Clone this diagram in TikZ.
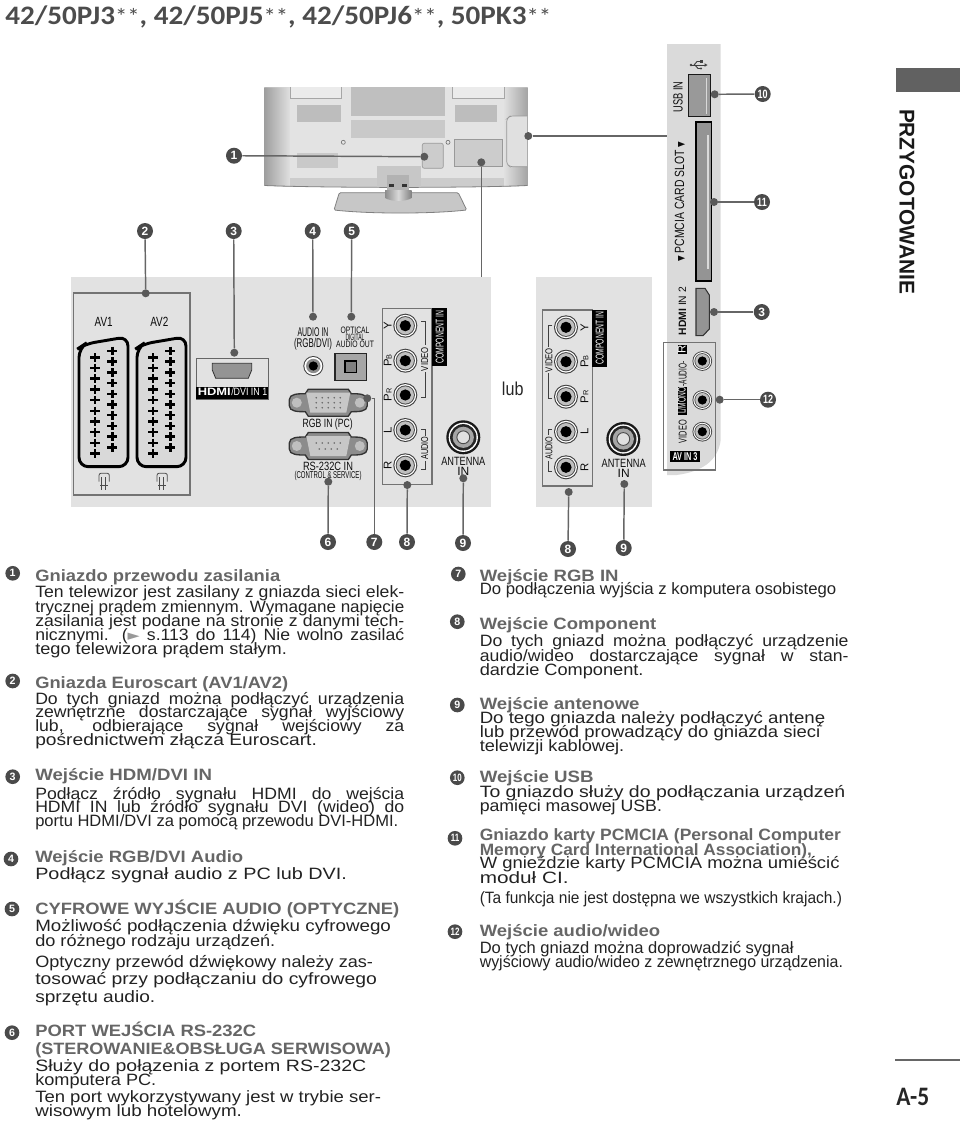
\documentclass[tikz,border=0pt]{standalone}
\usepackage{fontspec}
\usepackage{graphicx}
\setmainfont{Liberation Sans}
\newfontfamily\symfont{DejaVu Sans}
\newfontfamily\hdrfont{Carlito}
\definecolor{panel}{HTML}{E2E2E2}
\definecolor{strip}{HTML}{DADADA}
\definecolor{dark}{HTML}{4A4A4A}
\definecolor{body}{HTML}{222222}
\definecolor{headc}{HTML}{666666}
\newdimen\px \px=0.75pt
\newdimen\innerw
\newsavebox\tlbox
\newcommand{\fitw}[2]{\resizebox{#1\px}{\height}{#2}}
\newcommand{\fits}[2]{\sbox\tlbox{#2}\innerw=#1\px \innerw=0.93\innerw \ifdim\wd\tlbox>\innerw \resizebox{#1\px}{\height}{#2}\else\resizebox{#1\px}{\height}{\makebox[\innerw][s]{#2}}\fi}
\newcommand{\tl}[6]{\pgfmathsetmacro\tlw{#4-#3}\node[#1] (#2) at (#3,#5) {\fitw{\tlw}{#6}};}
\newcommand{\tj}[6]{\pgfmathsetmacro\tlw{#4-#3}\node[#1] (#2) at (#3,#5) {\fits{\tlw}{#6}};}
\newcommand{\fs}[1]{\fontsize{#1}{#1}\selectfont}
\newcommand{\rca}[3]{%
  \begin{scope}[shift={(#1,#2)},scale=#3]
    \fill[black!75] (0,0) circle[radius=12];
    \fill[white] (0,0) circle[radius=10.9];
    \fill[black!70] (0,0) circle[radius=9.6];
    \fill[black!25] (0,0) circle[radius=8.6];
    \fill[black] (0,0) circle[radius=5.6];
  \end{scope}}
\newcommand{\antenna}[2]{%
  \begin{scope}[shift={(#1,#2)}]
    \fill[black!90] (0,0) circle[radius=17];
    \fill[white] (0,0) circle[radius=14.6];
    \fill[black!85] (0,0) circle[radius=13.2];
    \fill[black!35] (0,0) circle[radius=10.6];
    \draw[black!70,line width=0.7pt,fill=black!12] (0,0) circle[radius=6.4];
  \end{scope}}
\newcommand{\dsub}[3]{%
  \begin{scope}[shift={(#1,#2)}]
    \draw[black!80,fill=black!45,line width=1pt] (-39,-3) .. controls (-39,-9) and (-30,-9) .. (-23,-9) -- (-20,-13.5) -- (20,-13.5) -- (23,-9) .. controls (30,-9) and (39,-9) .. (39,-3) -- (39,3) .. controls (39,9) and (30,9) .. (23,9) -- (20,13.5) -- (-20,13.5) -- (-23,9) .. controls (-30,9) and (-39,9) .. (-39,3) -- cycle;
    \fill[black!25] (-31.5,0) circle[radius=5];
    \fill[black!25] (31.5,0) circle[radius=5];
    \fill[black!22] (-22,-10) -- (22,-10) -- (18,10) -- (-18,10) -- cycle;
    #3
  \end{scope}}
\newcommand{\scart}[1]{%
  \begin{scope}[shift={(#1,0)}]
    \draw[black,line width=2.2pt,fill=black!15,rounded corners=7pt] (79,348) -- (85,344) -- (128,336.7) -- (128,466.7) -- (79,466.7) -- cycle;
    \foreach \i in {0,...,9} {
      \draw[pin] (90,357.3+10.7*\i) -- (100,357.3+10.7*\i);
      \draw[pin] (95,353+10.7*\i) -- (95,361.6+10.7*\i);
      \draw[pin] (107.3,351+10.7*\i) -- (117.3,351+10.7*\i);
      \draw[pin] (112.3,346.7+10.7*\i) -- (112.3,355.3+10.7*\i);
    }
    \draw[black!70,line width=0.6pt,rounded corners=1.5pt] (99,481.7) -- (99,473.3) -- (109.3,473.3) -- (109.3,481.7);
    \draw[black!70,line width=0.6pt] (101.7,477) -- (101.7,490) (105,477) -- (105,490) (100,485) -- (107.5,485);
  \end{scope}}
\tikzset{
  conn/.style={draw=black!60,line width=1.1pt},
  dot/.style={circle,fill=black!65,inner sep=0pt,minimum size=6pt},
  badge/.style={circle,fill=dark,text=white,inner sep=0pt,minimum size=12pt,font=\bfseries\fs{9}},
  lbadge/.style={circle,fill=dark,text=white,inner sep=0pt,minimum size=11pt,font=\bfseries\fs{8}},
  txt/.style={anchor=base west,inner sep=0pt,font=\fs{12.3},text=body},
  head/.style={anchor=base west,inner sep=0pt,font=\bfseries\fs{12.3},text=headc},
  lab/.style={anchor=base,inner sep=0pt,text=black!95,font=\fs{8.5}},
  labw/.style={anchor=base,inner sep=0pt,text=white,font=\fs{8.5}},
  rlab/.style={lab,rotate=90},
  rlabw/.style={labw,rotate=90},
  pin/.style={draw=black,line width=1.9pt},
  brk/.style={draw=black!75,line width=0.45pt},
  frame/.style={draw=black!55,line width=0.8pt},
}
\begin{document}
\begin{tikzpicture}[x=0.75pt,y=-0.75pt]
\useasboundingbox (0,0) rectangle (960,1122);
% header
\node[anchor=base west,inner sep=0pt,text=black!70,font=\hdrfont\bfseries\fs{20}] (title) at (5,24.5) {\fitw{546}{42/50PJ3{\mdseries\fs{17}**}, 42/50PJ5{\mdseries\fs{17}**}, 42/50PJ6{\mdseries\fs{17}**}, 50PK3{\mdseries\fs{17}**}}};
\fill[black!62] (896,67.7) rectangle (960,92.3);
\node[anchor=base,rotate=-90,inner sep=0pt,text=black!90,font=\bfseries\fs{16}] (sect) at (899.5,201.5) {\fitw{185}{PRZYGOTOWANIE}};
\draw[black!60,line width=0.9pt] (895,1060) -- (960,1060);
\node[anchor=base west,inner sep=0pt,text=black!85,font=\hdrfont\bfseries\fs{20}] (page) at (896,1105) {\fitw{33}{A-5}};
% TV
\fill[black!14] (264.3,87.3) rectangle (527.7,185);
\shade[left color=black!38,right color=black!12] (264.3,87.3) -- (290,87.3) -- (290,187) -- (264.3,185.5) -- cycle;
\shade[left color=black!12,right color=black!36] (504,87.3) -- (527.7,87.3) -- (527.7,185.5) -- (504,187) -- cycle;
\fill[black!11] (290,87.3) rectangle (504,178);
\fill[black!20] (290,178) rectangle (504,186.5);
\draw[black!50,line width=0.6pt] (264.3,185.5) .. controls (330,188) and (470,188) .. (527.7,185.5);
\draw[black!35,fill=black!8,line width=0.4pt] (290,87.3) -- (290,98.3) -- (341.7,98.3) -- (341.7,87.3);
\draw[black!35,fill=black!8,line width=0.4pt] (452.7,87.3) -- (452.7,98.3) -- (504,98.3) -- (504,87.3);
\fill[black!25] (351,87.3) rectangle (445,116);
\fill[black!21] (351,120) rectangle (445,138.3);
\fill[black!26] (296.7,105) rectangle (340.7,121.7);
\fill[black!26] (455,105) rectangle (496.7,121.7);
\fill[black!21] (296.7,152.7) rectangle (338.3,168.3);
\draw[black!55,fill=black!10,line width=0.5pt] (343.3,142.3) circle[radius=2];
\draw[black!55,fill=black!10,line width=0.5pt] (448,142.3) circle[radius=2];
\draw[black!40,fill=black!20,line width=0.5pt,rounded corners=1.5pt] (422.3,143.3) rectangle (443.3,168.3);
\draw[black!40,fill=black!20,line width=0.5pt] (454.3,139.3) rectangle (502.7,166.7);
\draw[black!40,fill=black!12,line width=0.5pt,rounded corners=2pt] (527,116) -- (510,116) -- (506.7,119) -- (506.7,164) -- (510,166.7) -- (527,166.7);
\fill[black!22] (377,166) rectangle (420.7,186.7);
\draw[black!50,fill=black!22,line width=0.6pt,rounded corners=1pt] (339.3,192.7) -- (458.3,192.7) -- (466.7,210) .. controls (430,214) and (370,214) .. (334,210) -- cycle;
\shade[left color=black!45,right color=black!50,middle color=black!15] (385,190) -- (411.7,190) -- (411.7,198) .. controls (405,202) and (392,202) .. (385,198) -- cycle;
\fill[black!30] (387,175) rectangle (409,190);
\fill[black!80] (389,184) rectangle (394,186.5);
\fill[black!80] (402,184) rectangle (407,186.5);
% panels
\fill[panel] (71,277) rectangle (491,506.7);
\fill[panel] (535.7,277.3) rectangle (652.3,506.7);
\fill[strip] (667,44) -- (720.7,44) -- (720.7,440) .. controls (718,462) and (700,472) .. (676.7,475) -- (667,475) -- cycle;
% AV boxes
\draw[frame] (73.3,293) rectangle (190,495);
\node[lab,font=\fs{10}] (av1) at (103.7,326.5) {\fitw{18}{AV1}};
\node[lab,font=\fs{10}] (av2) at (159.3,326.5) {\fitw{18}{AV2}};
\scart{0}
\scart{58}
% HDMI 1
\draw[black!60,line width=0.8pt] (196.3,358.3) rectangle (268.3,399.3);
\fill[black] (196.3,386.7) rectangle (268.3,399.3);
\draw[black!80,fill=black!42,line width=0.6pt] (212.3,363.3) -- (251.7,363.3) -- (251.7,370) -- (248.3,378.3) -- (215.7,378.3) -- (212.3,370) -- cycle;
\node[anchor=base west,inner sep=0pt,text=white,font=\bfseries\fs{8}] (hd1) at (197.5,395.3) {\fitw{33}{HDMI}};
\node[anchor=base west,inner sep=0pt,text=white,font=\fs{8}] (hd2) at (231,395.3) {\fitw{36}{/DVI IN 1}};
% audio in
\node[lab,font=\fs{9.5}] (a1) at (313,336) {\fitw{31}{AUDIO IN}};
\node[lab,font=\fs{9.5}] (a2) at (313,347) {\fitw{38}{(RGB/DVI)}};
\begin{scope}[shift={(313.3,366)}]
  \fill[black!75] (0,0) circle[radius=10];
  \fill[white] (0,0) circle[radius=9];
  \fill[black!45] (0,0) circle[radius=7.2];
  \fill[black] (0,0) circle[radius=4.6];
\end{scope}
% optical
\node[lab,font=\fs{7}] (o1) at (355,333.3) {\fitw{29}{OPTICAL}};
\node[lab,font=\fs{7}] (o2) at (355,340) {\fitw{19}{DIGITAL}};
\node[lab,font=\fs{7}] (o3) at (355,347.3) {\fitw{38}{AUDIO OUT}};
\draw[black!85,fill=black!35,line width=1pt] (335,353.3) rectangle (366.7,380.7);
\draw[black,fill=black!50,line width=0.9pt] (345,361) rectangle (356.5,372.5);
% D-sub
\dsub{328.3}{402.7}{\foreach \i in {-2,...,2} {\fill[black!60] (\i*6,-5) circle[radius=.9]; \fill[black!60] (\i*6,0) circle[radius=.9]; \fill[black!60] (\i*6,5) circle[radius=.9];}}
\node[lab,font=\fs{9}] (rgbl) at (327.7,427.3) {\fitw{50}{RGB IN (PC)}};
\dsub{328.3}{446}{\foreach \i in {-2,...,2} {\fill[black!60] (\i*6,-3) circle[radius=.9];} \foreach \i in {-1.5,-0.5,0.5,1.5} {\fill[black!60] (\i*6,3) circle[radius=.9];}}
\node[lab,font=\fs{9}] (rsl) at (328,470) {\fitw{50}{RS-232C IN}};
\node[lab,font=\fs{7.5}] (rsl2) at (328,478.3) {\fitw{67}{(CONTROL \& SERVICE)}};
% component left
\draw[frame] (382.3,308.3) rectangle (432,484.3);
\fill[black] (432,308.3) rectangle (447.3,365.7);
\node[rlabw,font=\fs{8.5}] (cl) at (443.5,337) {\fitw{53}{COMPONENT IN}};
\rca{405.3}{325.7}{1}\rca{405.3}{360.7}{1}\rca{405.3}{395}{1}\rca{405.3}{430}{1}\rca{405.3}{465.3}{1}
\node[rlab] (ly) at (391.7,325.7) {Y};
\node[rlab] (lb) at (391.7,360.7) {P{\fs{5.5}B}};
\node[rlab] (lr) at (391.7,395) {P{\fs{5.5}R}};
\node[rlab] (ll) at (391.7,430) {L};
\node[rlab] (lrr) at (391.7,465.3) {R};
\draw[brk] (421,321.7) -- (425,321.7) -- (425,345) (425,372) -- (425,397.3) -- (421,397.3);
\draw[brk] (421,429.3) -- (425,429.3) -- (425,436) (425,461) -- (425,469) -- (421,469);
\node[rlab,font=\fs{7.5}] (lv) at (428,359) {\fitw{24}{VIDEO}};
\node[rlab,font=\fs{7.5}] (la) at (428,448.3) {\fitw{23}{AUDIO}};
\antenna{463.3}{437.3}
\node[lab,font=\fs{9}] (an1) at (463.3,465.7) {\fitw{44}{ANTENNA}};
\node[lab,font=\fs{9}] (an2) at (463.3,475) {IN};
\node[anchor=base west,inner sep=0pt,text=black!85,font=\fs{14}] (lub) at (501.7,395) {\fitw{21.5}{lub}};
% component right
\draw[frame] (542.3,310) rectangle (592.3,486);
\fill[black] (592.3,310) rectangle (607.3,366.7);
\node[rlabw,font=\fs{8.5}] (cr) at (603.5,338) {\fitw{53}{COMPONENT IN}};
\rca{566}{327.3}{1}\rca{566}{361.7}{1}\rca{566}{396.7}{1}\rca{566}{431.7}{1}\rca{566}{467.3}{1}
\node[rlab] (ry) at (588.3,327.3) {Y};
\node[rlab] (rb) at (588.3,361.7) {P{\fs{5.5}B}};
\node[rlab] (rr) at (588.3,396.7) {P{\fs{5.5}R}};
\node[rlab] (rl) at (588.3,431.7) {L};
\node[rlab] (rrr) at (588.3,467.3) {R};
\draw[brk] (552,325) -- (548.3,325) -- (548.3,347) (548.3,373) -- (548.3,398.3) -- (552,398.3);
\draw[brk] (552,429.3) -- (548.3,429.3) -- (548.3,435) (548.3,461) -- (548.3,471.7) -- (552,471.7);
\node[rlab,font=\fs{7.5}] (rv) at (552.3,360) {\fitw{24}{VIDEO}};
\node[rlab,font=\fs{7.5}] (ra) at (552.3,448) {\fitw{23}{AUDIO}};
\antenna{623.3}{439}
\node[lab,font=\fs{9}] (an3) at (623.7,467.7) {\fitw{44}{ANTENNA}};
\node[lab,font=\fs{9}] (an4) at (623.7,477) {IN};
% side strip
\node[rlab,font=\fs{10}] (usbl) at (682.7,97) {\fitw{31}{USB IN}};
\draw[black!90,fill=black!40,line width=1pt] (688.7,74.3) rectangle (710.3,116.7);
\fill[white!85!black] (705.7,77.5) rectangle (707.3,114);
\begin{scope}[black!75,line width=0.7pt]
  \draw (691,65) -- (705,65);
  \fill (707.5,65) -- (704.5,63.2) -- (704.5,66.8) -- cycle;
  \fill (691,65) circle[radius=1.3];
  \draw (694,65) -- (697,61.5) -- (700,61.5);
  \fill (700,60.2) rectangle (702.5,62.8);
  \draw (695,65) -- (698,68.5) -- (700,68.5);
  \fill (701,68.5) circle[radius=1.2];
\end{scope}
\node[rlab,font=\fs{10}] (pcl) at (684,201.7) {\fitw{120}{{\symfont\fs{7}▼} PCMCIA CARD SLOT {\symfont\fs{7}▼}}};
\draw[black,fill=black!42,line width=1pt] (696,122) rectangle (711.7,281);
\fill[white!85!black] (707.2,135) rectangle (708.8,269);
\node[rlab,font=\fs{8}] (h2l) at (686,311) {\fitw{48}{\textbf{HDMI} IN 2}};
\draw[black!80,fill=black!42,line width=0.8pt] (696,288.3) -- (705,288.3) -- (709.3,295) -- (709.3,329) -- (703,335.7) -- (696,335.7) -- cycle;
% AV IN 3
\draw[frame] (663.3,342.3) rectangle (715.3,470);
\rca{702.3}{361}{.82}\rca{702.3}{400}{.82}\rca{702.3}{431.7}{.82}
\node[rlab,font=\fs{8.5}] (vl) at (686.7,431.7) {\fitw{23}{VIDEO}};
\fill[black] (678.3,386.7) rectangle (686.9,415);
\node[rlabw,font=\fs{8.5}] (ml) at (685.7,400.8) {\fitw{26}{L/MONO}};
\node[rlab,font=\fs{8.5}] (al) at (686.7,374) {\fitw{25}{-AUDIO-}};
\fill[black] (678.3,345) rectangle (686.9,353.5);
\node[rlabw,font=\fs{8.5}] (rl3) at (685.7,349.2) {R};
\fill[black] (670,450.7) rectangle (700,462.3);
\node[labw,font=\bfseries\fs{8.5}] (avl) at (685,460) {\fitw{25}{AV IN 3}};
% dots
\node[dot] (d1) at (424.3,156.7) {};
\node[dot] (d2) at (145.7,293.3) {};
\node[dot] (d3) at (234.3,352.7) {};
\node[dot] (d4) at (313,316.7) {};
\node[dot] (d5) at (351.3,316.7) {};
\node[dot] (d6) at (328.3,481.7) {};
\node[dot] (d7) at (367.3,398.3) {};
\node[dot] (d8) at (407.3,485) {};
\node[dot] (d9) at (463.3,478.3) {};
\node[dot] (d10) at (714.7,94.3) {};
\node[dot] (d11) at (714,202) {};
\node[dot] (d3b) at (714,312) {};
\node[dot] (d12) at (719.7,399.7) {};
\node[dot] (d8b) at (568.7,492) {};
\node[dot] (d9b) at (624.3,484) {};
\node[dot] (dp) at (481.3,162.3) {};
\node[dot] (ds) at (528.3,136) {};
\coordinate (pa) at (481.3,277);
\coordinate (pb) at (667,136);
% badges
\node[badge] (b1) at (234,155.7) {1};
\node[badge] (b2) at (145,231) {2};
\node[badge] (b3) at (233.7,231) {3};
\node[badge] (b4) at (312.7,231) {4};
\node[badge] (b5) at (351.7,231) {5};
\node[badge] (b6) at (328,542) {6};
\node[badge] (b7) at (374.3,542) {7};
\node[badge] (b8) at (407,542) {8};
\node[badge] (b9) at (463,543) {9};
\node[badge] (b10) at (762.7,94) {\scalebox{.75}[1]{10}};
\node[badge] (b11) at (762,202) {\scalebox{.75}[1]{11}};
\node[badge] (b3b) at (761.7,312) {3};
\node[badge] (b12) at (768,399.7) {\scalebox{.75}[1]{12}};
\node[badge] (b8b) at (568,549) {8};
\node[badge] (b9b) at (623.7,548) {9};
% connectors
\draw[conn] (b1) -- (d1);
\draw[conn] (b2) -- (d2);
\draw[conn] (b3) -- (d3);
\draw[conn] (b4) -- (d4);
\draw[conn] (b5) -- (d5);
\draw[conn] (b6) -- (d6);
\draw[conn] (d7) -| (b7);
\draw[conn] (b8) -- (d8);
\draw[conn] (b9) -- (d9);
\draw[conn] (b10) -- (d10);
\draw[conn] (b11) -- (d11);
\draw[conn] (b3b) -- (d3b);
\draw[conn] (b12) -- (d12);
\draw[conn] (b8b) -- (d8b);
\draw[conn] (b9b) -- (d9b);
\draw[conn] (dp) -- (pa);
\draw[conn] (ds) -- (pb);
% left column
\node[lbadge] (n1) at (12.7,573.3) {1};
\tl{head}{h1}{35}{280}{581}{Gniazdo przewodu zasilania}
\tj{txt}{t1a}{35}{404}{597}{Ten telewizor jest zasilany z gniazda sieci elek-}
\tj{txt}{t1b}{35}{404}{612}{trycznej prądem zmiennym. Wymagane napięcie}
\tj{txt}{t1c}{35}{404}{626}{zasilania jest podane na stronie z danymi tech-}
\tj{txt}{t1d}{35}{404}{640}{nicznymi. ({\symfont\textcolor{black!40}{\fs{11}►}} s.113 do 114) Nie wolno zasilać}
\tl{txt}{t1e}{35}{286.7}{654}{tego telewizora prądem stałym.}
\node[lbadge] (n2) at (12.7,681) {2};
\tl{head}{h2}{35}{288}{688}{Gniazda Euroscart (AV1/AV2)}
\tj{txt}{t2a}{35}{404}{704}{Do tych gniazd można podłączyć urządzenia}
\tj{txt}{t2b}{35}{404}{717.7}{zewnętrzne dostarczające sygnał wyjściowy}
\tj{txt}{t2c}{35}{404}{731.7}{lub, odbierające sygnał wejściowy za}
\tl{txt}{t2d}{35}{316.7}{745.7}{pośrednictwem złącza Euroscart.}
\node[lbadge] (n3) at (12.7,776.7) {3};
\tl{head}{h3}{35}{211.7}{780.7}{Wejście HDM/DVI IN}
\tj{txt}{t3a}{35}{404}{799}{Podłącz źródło sygnału HDMI do wejścia}
\tj{txt}{t3b}{35}{404}{812.3}{HDMI IN lub źródło sygnału DVI (wideo) do}
\tl{txt}{t3c}{35}{398}{826.7}{portu HDMI/DVI za pomocą przewodu DVI-HDMI.}
\node[lbadge] (n4) at (11,859) {4};
\tl{head}{h4}{35}{243}{862}{Wejście RGB/DVI Audio}
\tl{txt}{t4a}{35}{346.7}{879}{Podłącz sygnał audio z PC lub DVI.}
\node[lbadge] (n5) at (12,909) {5};
\tl{head}{h5}{35}{399}{914}{CYFROWE WYJŚCIE AUDIO (OPTYCZNE)}
\tl{txt}{t5a}{35}{390.7}{931.7}{Możliwość podłączenia dźwięku cyfrowego}
\tl{txt}{t5b}{35}{275}{946}{do różnego rodzaju urządzeń.}
\tl{txt}{t5c}{35}{372.7}{967}{Optyczny przewód dźwiękowy należy zas-}
\tl{txt}{t5d}{35}{376.7}{984.3}{tosować przy podłączaniu do  cyfrowego}
\tl{txt}{t5e}{35}{155}{1002}{sprzętu audio.}
\node[lbadge] (n6) at (12,1032.7) {6};
\tl{head}{h6}{35}{256}{1036.7}{PORT WEJŚCIA RS-232C}
\tl{head}{h6b}{35}{390.7}{1054}{(STEROWANIE\&OBSŁUGA SERWISOWA)}
\tl{txt}{t6a}{35}{366}{1071.7}{Służy do połązenia z portem RS-232C}
\tl{txt}{t6b}{35}{156}{1085}{komputera PC.}
\tl{txt}{t6c}{35}{380.7}{1102.7}{Ten port wykorzystywany jest w trybie ser-}
\tl{txt}{t6d}{35}{241.7}{1116}{wisowym lub hotelowym.}
% right column
\node[lbadge] (n7) at (458.3,574) {7};
\tl{head}{h7}{479.5}{618.3}{581}{Wejście RGB IN}
\tl{txt}{t7a}{479.5}{836}{594.3}{Do podłączenia wyjścia z komputera osobistego}
\node[lbadge] (n8) at (457.3,621.7) {8};
\tl{head}{h8}{479.5}{656}{629}{Wejście Component}
\tj{txt}{t8a}{479.5}{848.3}{646.7}{Do tych gniazd można podłączyć urządzenie}
\tj{txt}{t8b}{479.5}{848.3}{661}{audio/wideo dostarczające sygnał w stan-}
\tl{txt}{t8c}{479.5}{643.3}{675}{dardzie Component.}
\node[lbadge] (n9) at (457.3,705) {9};
\tl{head}{h9}{479.5}{639.3}{709}{Wejście antenowe}
\tl{txt}{t9a}{479.5}{825}{723}{Do tego gniazda należy podłączyć antenę}
\tl{txt}{t9b}{479.5}{820}{737}{lub przewód prowadzący do gniazda sieci}
\tl{txt}{t9c}{479.5}{624}{751.7}{telewizji kablowej.}
\node[lbadge] (n10) at (457.3,777.7) {\scalebox{.75}[1]{10}};
\tl{head}{h10}{479.5}{593.3}{782.7}{Wejście USB}
\tl{txt}{t10a}{479.5}{845}{797}{To gniazdo służy do podłączania urządzeń}
\tl{txt}{t10b}{479.5}{661.7}{811}{pamięci masowej USB.}
\node[lbadge] (n11) at (455,838.3) {\scalebox{.75}[1]{11}};
\tl{head}{h11}{479.5}{840.7}{840.7}{Gniazdo karty PCMCIA (Personal Computer}
\tl{head}{h11b}{479.5}{811.7}{855}{Memory Card International Association),}
\tl{txt}{t11a}{479.5}{839.3}{868.3}{W gnieździe karty PCMCIA można umieścić}
\tl{txt}{t11b}{479.5}{568.3}{883.3}{moduł CI.}
\tl{txt}{t11c}{479.5}{841.7}{903}{(Ta funkcja nie jest dostępna we wszystkich krajach.)}
\node[lbadge] (n12) at (455,931.7) {\scalebox{.75}[1]{12}};
\tl{head}{h12}{479.5}{660}{936.7}{Wejście audio/wideo}
\tl{txt}{t12a}{479.5}{793.3}{953.3}{Do tych gniazd można doprowadzić sygnał}
\tl{txt}{t12b}{479.5}{842.7}{967}{wyjściowy audio/wideo z zewnętrznego urządzenia.}
\end{tikzpicture}
\end{document}
